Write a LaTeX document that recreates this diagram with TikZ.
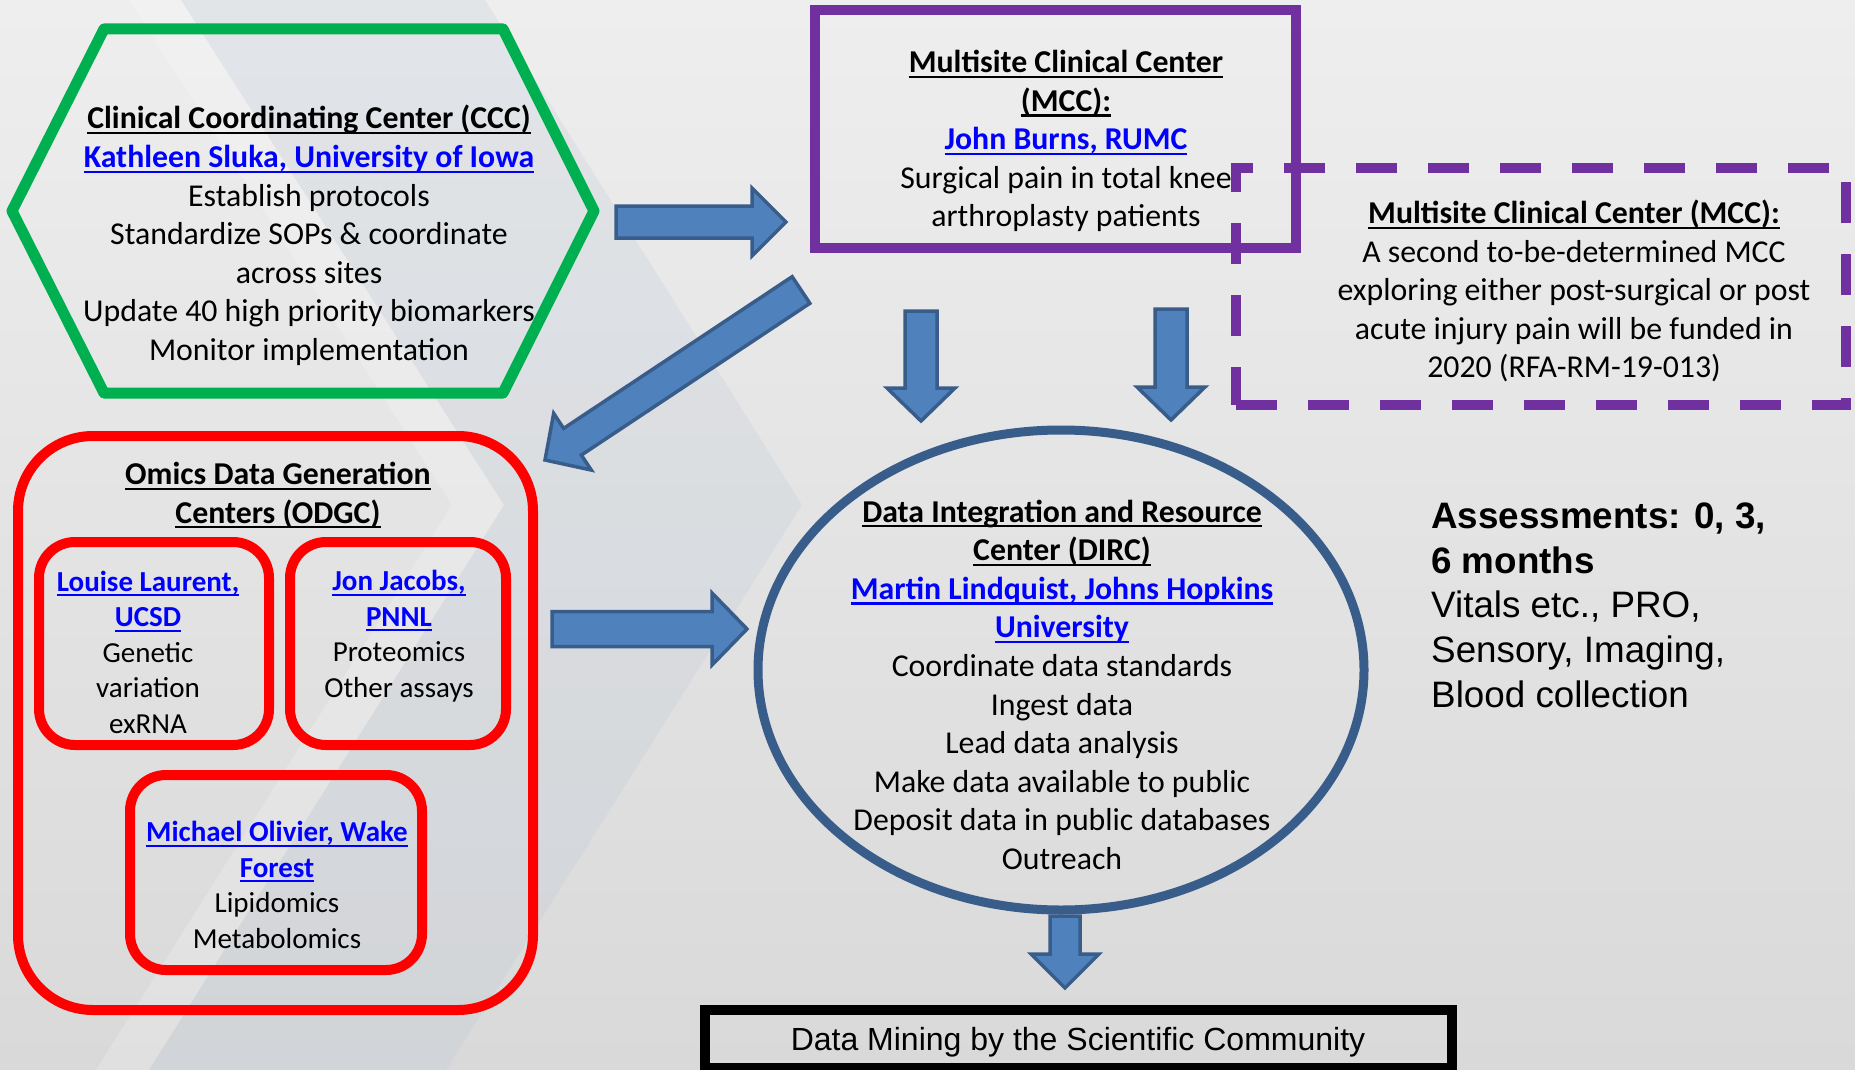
\documentclass[tikz,border=0pt]{standalone}
\usepackage{fontspec}
\setmainfont{Carlito}
\newfontfamily\arialfont{Liberation Sans}
\usetikzlibrary{calc,shapes.geometric}

\definecolor{cccgreen}{HTML}{00B050}
\definecolor{mccpurple}{HTML}{7030A0}
\definecolor{odgcred}{HTML}{FF0000}
\definecolor{dircblue}{HTML}{385D8A}
\definecolor{arrowfill}{HTML}{4F81BD}
\definecolor{arrowline}{HTML}{385D8A}
\definecolor{linkblue}{HTML}{0000FF}
\definecolor{bgtop}{HTML}{EEEEEE}
\definecolor{bgbottom}{HTML}{D9D9D9}
\definecolor{chevronblue}{HTML}{B4C2D4}

% underline at a fixed depth below the baseline
\newcommand\uln[1]{\leavevmode\setbox0=\hbox{#1}\rlap{\vrule width\wd0 height -0.1em depth 0.17em}\box0}
\newcommand\lnk[1]{{\color{linkblue}\bfseries\uln{#1}}}
\newcommand\hdr[1]{{\bfseries\uln{#1}}}

% block arrow: tail, tip, shaft half-width, head half-width, head length
\newcommand\blockarrow[5]{%
  \coordinate (#2-hb) at ($(#2)!#5!(#1)$);
  \draw[barrow] ($(#1)!#3!90:(#2)$) -- ($(#2-hb)!#3!-90:(#1)$) -- ($(#2-hb)!#4!-90:(#1)$)
    -- (#2) -- ($(#2-hb)!#4!90:(#1)$) -- ($(#2-hb)!#3!90:(#1)$) -- ($(#1)!#3!-90:(#2)$) -- cycle;
}

\tikzset{
  boxtext/.style={align=center, inner sep=0pt, font=\fontsize{31.8}{38.6}\selectfont},
  smalltext/.style={align=center, inner sep=0pt, font=\fontsize{29}{35.5}\selectfont},
  barrow/.style={fill=arrowfill, draw=arrowline, line width=3.5pt, line join=miter},
  frame/.style={draw, inner sep=0pt, line width=10pt},
  redframe/.style={frame, draw=odgcred, line width=10pt},
}

\begin{document}
\begin{tikzpicture}[x=1pt, y=-1pt]
\useasboundingbox (0,0) rectangle (1855,1070);

% backdrop with chevron bands
\shade[top color=bgtop, bottom color=bgbottom] (0,0) rectangle (1855,1070);
\fill[white, opacity=0.2] (129,0) -- (452,505) -- (96,1070) -- (149,1070) -- (504,505) -- (181,0) -- cycle;
\fill[chevronblue, opacity=0.2] (181,0) -- (504,505) -- (149,1070) -- (446,1070) -- (802,505) -- (485,0) -- cycle;

% Clinical Coordinating Center
\draw[cccgreen, line width=11pt, line join=round]
  (12,211) -- (104,29) -- (503,29) -- (594,211) -- (503,393) -- (104,393) -- cycle;

% Multisite Clinical Centers
\node[frame, draw=mccpurple, minimum width=481pt, minimum height=238pt] (mcc1) at (1055.5,129) {};
\node[frame, draw=mccpurple, dash pattern=on 41pt off 31pt, minimum width=610pt, minimum height=237pt] (mcc2) at (1541,286.5) {};

% Omics Data Generation Centers
\node[redframe, rounded corners=75pt, minimum width=515pt, minimum height=574pt] (odgc) at (275.5,723) {};
\node[redframe, rounded corners=36pt, minimum width=230pt, minimum height=203pt] (louise) at (154,643.5) {};
\node[redframe, rounded corners=36pt, minimum width=216pt, minimum height=203pt] (jon) at (398,643.5) {};
\node[redframe, rounded corners=36pt, minimum width=292pt, minimum height=195pt] (michael) at (276,872.5) {};

% Data Integration and Resource Center
\node[ellipse, draw=dircblue, line width=9pt, inner sep=0pt, minimum width=606pt, minimum height=480pt] (dirc) at (1061,670) {};

% Data mining
\node[frame, draw=black, minimum width=747pt, minimum height=58pt] (miningbox) at (1078.5,1039) {};

% arrows
\coordinate (a1tail) at (616,222);  \coordinate (a1tip) at (786,222);
\coordinate (a2tail) at (801,290);  \coordinate (a2tip) at (545,460);
\coordinate (a3tail) at (921,311);  \coordinate (a3tip) at (921,421);
\coordinate (a4tail) at (552,629);  \coordinate (a4tip) at (747,629);
\coordinate (a5tail) at (1065,916); \coordinate (a5tip) at (1065,988);
\coordinate (a6tail) at (1171,309); \coordinate (a6tip) at (1171,420);
\blockarrow{a1tail}{a1tip}{16pt}{34pt}{34pt}
\blockarrow{a2tail}{a2tip}{16pt}{34pt}{33pt}
\blockarrow{a3tail}{a3tip}{16pt}{34pt}{33pt}
\blockarrow{a4tail}{a4tip}{17.5pt}{36pt}{35pt}
\blockarrow{a5tail}{a5tip}{15pt}{34pt}{34pt}
\blockarrow{a6tail}{a6tip}{16pt}{34pt}{33pt}

% texts
\node[boxtext] (ccctext) at (309,237) {\strut\hdr{Clinical Coordinating Center (CCC)}\\
  \lnk{Kathleen Sluka, University of Iowa}\\ Establish protocols\\
  Standardize SOPs \& coordinate\\ across sites\\
  Update 40 high priority biomarkers\\ Monitor implementation\strut};

\node[boxtext] (mcc1text) at (1066,142) {\strut\hdr{Multisite Clinical Center}\\ \hdr{(MCC):}\\
  \lnk{John Burns, RUMC}\\ Surgical pain in total knee\\ arthroplasty patients\strut};

\node[boxtext] (mcc2text) at (1574,293) {\strut\hdr{Multisite Clinical Center (MCC):}\\
  A second to-be-determined MCC\\ exploring either post-surgical or post\\
  acute injury pain will be funded in\\ 2020 (RFA-RM-19-013)\strut};

\node[boxtext] (odgctitle) at (278,496) {\strut\hdr{Omics Data Generation}\\ \hdr{Centers (ODGC)}\strut};

\node[smalltext] (louisetext) at (148,655) {\strut\lnk{Louise Laurent,}\\ \lnk{UCSD}\\ Genetic\\ variation\\ exRNA\strut};
\node[smalltext] (jontext) at (399,637) {\strut\lnk{Jon Jacobs,}\\ \lnk{PNNL}\\ Proteomics\\ Other assays\strut};
\node[smalltext] (michaeltext) at (277,888) {\strut\lnk{Michael Olivier, Wake}\\ \lnk{Forest}\\ Lipidomics\\ Metabolomics\strut};

\node[boxtext] (dirctext) at (1062,688) {\strut\hdr{Data Integration and Resource}\\ \hdr{Center (DIRC)}\\
  \lnk{Martin Lindquist, Johns Hopkins}\\ \lnk{University}\\ Coordinate data standards\\
  Ingest data\\ Lead data analysis\\ Make data available to public\\
  Deposit data in public databases\\ Outreach\strut};

\node[align=left, inner sep=0pt, anchor=west, font=\arialfont\fontsize{36.8}{44.75}\selectfont] (assess) at (1431,609)
  {\strut\textbf{Assessments: 0, 3,}\\ \textbf{6 months}\\ Vitals etc., PRO,\\ Sensory, Imaging,\\ Blood collection\strut};

\node[inner sep=0pt, anchor=base, font=\arialfont\fontsize{32}{38}\selectfont] (mining) at (1078,1050)
  {Data Mining by the Scientific Community};
\end{tikzpicture}
\end{document}
